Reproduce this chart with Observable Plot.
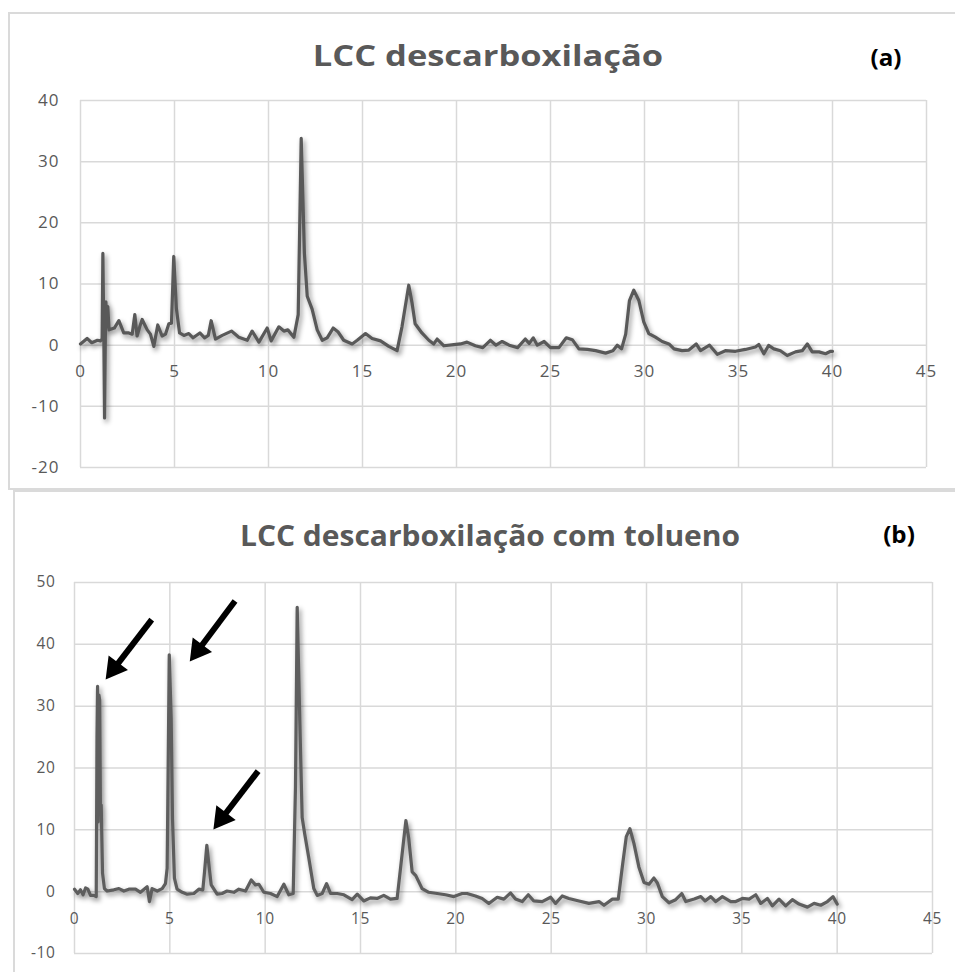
<!DOCTYPE html>
<html>
<head>
<meta charset="utf-8">
<script src="https://cdn.jsdelivr.net/npm/d3@7"></script>
<script src="https://cdn.jsdelivr.net/npm/@observablehq/plot@0.6"></script>
<style>
  html, body { margin: 0; padding: 0; background: #fff; }
  #wrap { position: relative; width: 955px; height: 972px; overflow: hidden; background: #fff; }
  .box { position: absolute; border: 2px solid #dadada; box-sizing: border-box; }
  .ttl { position: absolute; font-family: "Open Sans", sans-serif; font-weight: 700; color: #595959; white-space: nowrap; line-height: 1; }
  .tag { position: absolute; font-family: "Open Sans", sans-serif; font-weight: 700; color: #000; white-space: nowrap; line-height: 1; }
  .plot { position: absolute; left: 0; }
  .plot g[aria-label="line"] { filter: drop-shadow(2px 3px 2.5px rgba(0,0,0,0.45)); }
</style>
</head>
<body>
<div id="wrap"></div>
<script>
// ---------- data ----------
const titleA = "LCC descarboxilação";
const titleB = "LCC descarboxilação com tolueno";
const tagA = "(a)";
const tagB = "(b)";

const xTicks = [0, 5, 10, 15, 20, 25, 30, 35, 40, 45];
const aYTicks = [-20, -10, 0, 10, 20, 30, 40];
const bYTicks = [-10, 0, 10, 20, 30, 40, 50];

// Panel (a): retention time and signal
const aTime = [0, 0.35, 0.6, 0.9, 1.06, 1.15, 1.19, 1.24, 1.28, 1.32, 1.35, 1.4, 1.45, 1.52, 1.6, 1.8, 2.04, 2.3, 2.57, 2.75, 2.89, 3.01, 3.15, 3.28, 3.42, 3.55, 3.72, 3.9, 4.11, 4.34, 4.52, 4.7, 4.84, 4.96, 5.1, 5.27, 5.5, 5.76, 5.99, 6.35, 6.6, 6.8, 6.95, 7.18, 7.54, 8.03, 8.42, 8.87, 9.13, 9.49, 9.93, 10.14, 10.55, 10.82, 11.03, 11.35, 11.58, 11.74, 11.91, 12.06, 12.32, 12.59, 12.86, 13.12, 13.44, 13.69, 14.0, 14.45, 14.72, 15.16, 15.51, 15.96, 16.4, 16.84, 17.1, 17.46, 17.63, 17.8, 18.16, 18.53, 18.79, 18.97, 19.33, 19.86, 20.21, 20.56, 21.0, 21.4, 21.8, 22.1, 22.43, 22.8, 23.25, 23.66, 23.87, 24.08, 24.3, 24.66, 25.0, 25.45, 25.84, 26.16, 26.51, 26.96, 27.4, 27.93, 28.32, 28.55, 28.78, 29.0, 29.2, 29.43, 29.7, 29.96, 30.23, 30.58, 30.94, 31.3, 31.57, 32.0, 32.36, 32.75, 32.98, 33.46, 33.87, 34.3, 34.84, 35.37, 35.9, 36.08, 36.35, 36.6, 36.88, 37.23, 37.59, 38.03, 38.39, 38.66, 38.92, 39.28, 39.63, 39.9, 40.0];
const aSignal = [0.2, 1.1, 0.4, 0.8, 0.7, 1.0, 15.0, 2, -11.9, 1, 7.1, 3, 6.3, 2.5, 2.6, 2.8, 4.0, 2.0, 2.0, 1.8, 5.0, 1.5, 3.0, 4.2, 3.3, 2.5, 1.8, -0.2, 3.3, 1.5, 1.8, 3.5, 3.6, 14.5, 6, 2.0, 1.6, 1.9, 1.2, 2.0, 1.2, 1.6, 4.0, 1.0, 1.6, 2.3, 1.3, 0.8, 2.3, 0.5, 2.8, 0.7, 3.0, 2.3, 2.5, 1.3, 5, 33.8, 15, 8, 5.9, 2.5, 0.8, 1.2, 2.8, 2.2, 0.8, 0.2, 0.8, 1.9, 1.1, 0.7, -0.2, -0.9, 3, 9.8, 7, 3.5, 2.0, 0.8, 0.2, 1.0, -0.1, 0.1, 0.2, 0.5, -0.1, -0.4, 0.8, 0, 0.6, 0, -0.4, 1.0, 0.3, 1.2, 0, 0.6, -0.4, -0.4, 1.2, 0.9, -0.6, -0.7, -0.9, -1.3, -0.9, 0, -0.6, 1.8, 7.3, 9.0, 7.3, 3.8, 1.9, 1.3, 0.6, 0.2, -0.6, -0.9, -0.8, 0.2, -0.9, 0, -1.5, -0.9, -1.0, -0.7, -0.3, 0.1, -1.4, -0.05, -0.6, -0.9, -1.7, -1.1, -0.9, 0.2, -1.1, -1.1, -1.4, -1.0, -1.0];

// Panel (b): retention time and signal
const bTime = [0, 0.17, 0.31, 0.45, 0.58, 0.7, 0.84, 1.01, 1.14, 1.18, 1.21, 1.24, 1.28, 1.32, 1.36, 1.40, 1.47, 1.57, 1.71, 2.06, 2.33, 2.59, 2.85, 3.2, 3.46, 3.81, 3.93, 4.07, 4.34, 4.6, 4.77, 4.86, 4.97, 5.07, 5.14, 5.24, 5.38, 5.65, 5.91, 6.26, 6.52, 6.73, 6.82, 6.94, 7.05, 7.17, 7.48, 7.74, 8.0, 8.36, 8.62, 8.97, 9.27, 9.49, 9.67, 9.93, 10.28, 10.63, 10.98, 11.24, 11.47, 11.59, 11.68, 11.82, 11.94, 12.07, 12.28, 12.55, 12.73, 12.99, 13.22, 13.43, 13.78, 14.13, 14.56, 14.83, 15.17, 15.52, 15.87, 16.22, 16.57, 16.92, 17.1, 17.38, 17.53, 17.71, 17.9, 18.23, 18.58, 19.02, 19.46, 19.9, 20.33, 20.59, 21.03, 21.38, 21.73, 22.17, 22.52, 22.87, 23.13, 23.48, 23.8, 24.09, 24.53, 24.97, 25.23, 25.58, 25.93, 26.46, 26.98, 27.51, 27.77, 28.21, 28.52, 28.73, 28.94, 29.13, 29.34, 29.6, 29.87, 30.13, 30.39, 30.57, 30.83, 31.18, 31.53, 31.85, 32.06, 32.5, 32.85, 33.07, 33.37, 33.63, 33.98, 34.42, 34.68, 35.03, 35.38, 35.73, 35.99, 36.34, 36.6, 36.95, 37.3, 37.65, 38.0, 38.44, 38.79, 39.14, 39.49, 39.78, 40.0];
const bSignal = [0.4, -0.3, 0.3, -0.5, 0.6, 0.4, -0.6, -0.6, -0.8, 25, 33.2, 11.3, 31.8, 31, 13, 14, 3, 0.5, 0.1, 0.3, 0.5, 0.1, 0.4, 0.4, -0.1, 0.8, -1.6, 0.5, 0.1, 0.5, 1.3, 3.8, 38.3, 28, 11.8, 2.2, 0.4, -0.1, -0.4, -0.3, 0.4, 0.3, 3.2, 7.5, 4.3, 1.1, -0.4, -0.3, 0.1, -0.1, 0.4, 0.1, 1.9, 1.1, 1.2, -0.1, -0.3, -0.8, 1.2, -0.5, -0.3, 17, 46, 27.2, 12, 9.4, 5.6, 0.5, -0.6, -0.3, 1.3, -0.3, -0.3, -0.5, -1.3, -0.4, -1.5, -1.0, -1.1, -0.6, -1.2, -1.1, 3.8, 11.5, 8.6, 3.2, 2.6, 0.5, -0.1, -0.3, -0.5, -0.8, -0.3, -0.3, -0.7, -1.1, -1.9, -0.9, -1.2, -0.2, -1.2, -1.6, -0.5, -1.5, -1.6, -0.9, -1.9, -0.7, -1.1, -1.5, -1.9, -1.6, -2.2, -1.2, -1.2, 4.0, 8.9, 10.2, 7.8, 4.0, 1.5, 1.2, 2.2, 1.4, -0.8, -1.8, -1.3, -0.3, -1.6, -1.2, -0.8, -1.5, -0.8, -1.6, -0.8, -1.6, -1.6, -1.1, -1.2, -0.5, -1.9, -1.1, -2.3, -1.2, -2.3, -1.3, -2.0, -2.5, -1.9, -2.2, -1.6, -0.8, -2.0];

// Arrows in panel (b): tail (x1,y1) -> tip (x2,y2), in data units
const arrowX1 = [4.05, 8.42, 9.63];
const arrowY1 = [44.0, 47.0, 19.5];
const arrowX2 = [1.63, 6.04, 7.28];
const arrowY2 = [34.3, 37.2, 10.05];

// ---------- build ----------
const aData = aTime.map((t, i) => ({t, v: aSignal[i]}));
const bData = bTime.map((t, i) => ({t, v: bSignal[i]}));
const arrows = arrowX1.map((x1, i) => ({x1, y1: arrowY1[i], x2: arrowX2[i], y2: arrowY2[i]}));

const gridStyle = {stroke: "#d9d9d9", strokeOpacity: 1, strokeWidth: 1.5};
const fmt = d => String(d);

const wrap = document.getElementById("wrap");

function addDiv(cls, css, text) {
  const d = document.createElement("div");
  d.className = cls;
  d.textContent = text || "";
  Object.assign(d.style, css);
  wrap.appendChild(d);
  return d;
}

// panel frames
addDiv("box", {left: "8px", top: "12px", width: "960px", height: "478px"});
addDiv("box", {left: "13px", top: "490px", width: "960px", height: "500px"});

const plotA = Plot.plot({
  width: 955, height: 490,
  marginLeft: 80, marginRight: 29, marginTop: 100, marginBottom: 23,
  x: {domain: [0, 45], axis: null},
  y: {domain: [-20, 40]},
  style: {background: "transparent", fontFamily: "Open Sans, sans-serif", fontSize: "17px", color: "#595959", overflow: "visible", letterSpacing: "1px"},
  marks: [
    Plot.gridX(xTicks, gridStyle),
    Plot.gridY(aYTicks, gridStyle),
    Plot.axisY(aYTicks, {tickSize: 0, tickPadding: 21, fill: "#595959", fontSize: 17, tickFormat: fmt, label: null}),
    Plot.text(xTicks, {x: d => d, y: () => 0, dy: 26, text: fmt, fill: "#595959", fontSize: 17}),
    Plot.line(aData, {x: "t", y: "v", stroke: "#595959", strokeWidth: 3.2, strokeLinejoin: "round"})
  ]
});
plotA.classList.add("plot");
plotA.style.top = "0px";
plotA.style.position = "absolute";
wrap.appendChild(plotA);

const plotB = Plot.plot({
  width: 955, height: 482,
  marginLeft: 74, marginRight: 23, marginTop: 92, marginBottom: 19,
  x: {domain: [0, 45], axis: null},
  y: {domain: [-10, 50]},
  style: {background: "transparent", fontFamily: "Open Sans, sans-serif", fontSize: "15.5px", color: "#595959", overflow: "visible", letterSpacing: "0.6px"},
  marks: [
    Plot.gridX(xTicks, gridStyle),
    Plot.gridY(bYTicks, gridStyle),
    Plot.axisY(bYTicks, {tickSize: 0, tickPadding: 19, fill: "#595959", fontSize: 15.5, tickFormat: fmt, label: null}),
    Plot.text(xTicks, {x: d => d, y: () => 0, dy: 27, text: fmt, fill: "#595959", fontSize: 15.5}),
    Plot.line(bData, {x: "t", y: "v", stroke: "#5e5e5e", strokeWidth: 3.2, strokeLinejoin: "round"}),
    Plot.arrow(arrows, {x1: "x1", y1: "y1", x2: "x2", y2: "y2", stroke: "#000", strokeWidth: 6, headLength: 0, insetEnd: 12, strokeLinecap: "butt"}),
    Plot.dot(arrows, {x: "x2", y: "y2", symbol: "triangle", r: 9, fill: "#000", stroke: "none", rotate: 217, dx: 8.5, dy: -11.3})
  ]
});
plotB.classList.add("plot");
plotB.style.top = "490px";
plotB.style.position = "absolute";
wrap.appendChild(plotB);

// titles and panel tags
function centered(cls, text, cx, cy, size, sx) {
  return addDiv(cls, {fontSize: size + "px", left: cx + "px", top: cy + "px", transform: `translate(-50%, -50%) scaleX(${sx})`}, text);
}
centered("ttl", titleA, 488, 55, 28, 1.23);
centered("ttl", titleB, 490, 535, 28, 1.07);
centered("tag", tagA, 886, 57, 23, 1.05);
centered("tag", tagB, 899, 534, 23, 1.05);
</script>
</body>
</html>
